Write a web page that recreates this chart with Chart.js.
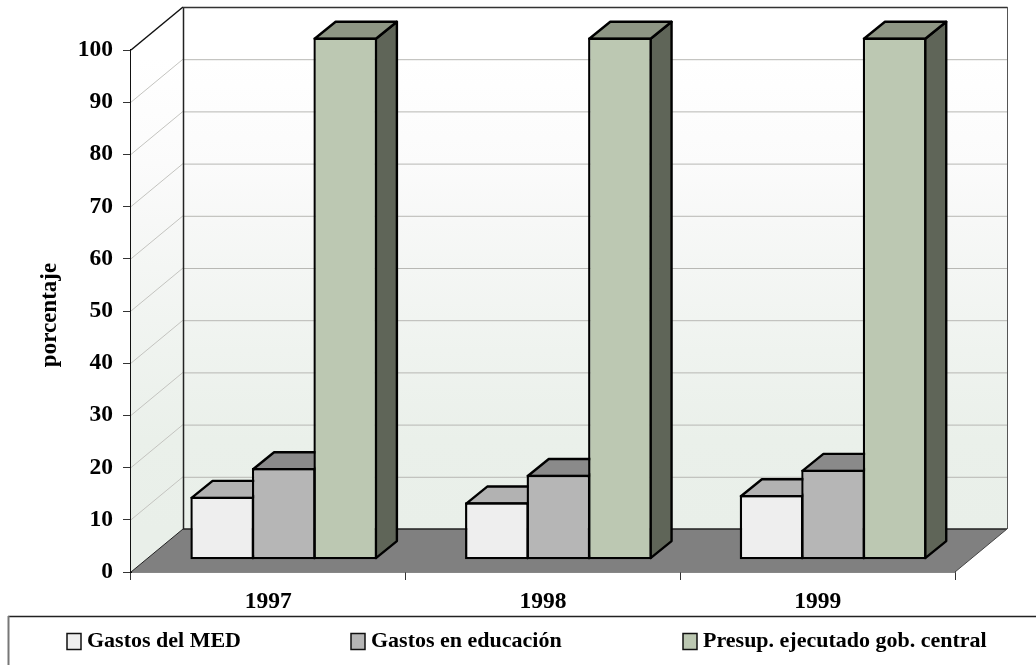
<!DOCTYPE html>
<html>
<head>
<meta charset="utf-8">
<title>Gastos en educación</title>
<script src="https://cdn.jsdelivr.net/npm/chart.js@4/dist/chart.umd.min.js"></script>
<style>
  html, body { margin: 0; padding: 0; background: #fff; }
  #wrap { width: 1036px; height: 665px; }
  canvas { display: block; }
</style>
</head>
<body>
<div id="wrap"><canvas id="c" width="1036" height="665"></canvas></div>
<script>
const years = ['1997', '1998', '1999'];
const gastosMED = [11.6, 10.5, 11.9];
const gastosEducacion = [17.1, 15.8, 16.8];
const presupuesto = [100, 100, 100];

const seriesNames = ['Gastos del MED', 'Gastos en educación', 'Presup. ejecutado gob. central'];
const frontColors = ['#eeeeee', '#b6b6b6', '#bcc8b2'];
const topColors = ['#b2b2b2', '#8a8a8a', '#8e9684'];
const sideColors = ['#777777', '#5c5c5c', '#5f6558'];
const axisTitle = 'porcentaje';

const FONT = '"Liberation Serif", "Times New Roman", serif';
const INK = '#000000';
const BAR_LINE = 2.4;

// Room depth: how far the back wall sits behind the front plane, in pixels.
const ROOM = { dx: 52, dy: 43 };
// Bars stand a little inside the room and have their own depth.
const BAR_SHIFT_X = 15.4;
const BAR_DEPTH = { dx: 21, dy: 17 };

function poly(ctx, pts, fill, stroke, lw) {
  ctx.beginPath();
  pts.forEach((p, i) => i ? ctx.lineTo(p[0], p[1]) : ctx.moveTo(p[0], p[1]));
  ctx.closePath();
  if (fill) { ctx.fillStyle = fill; ctx.fill(); }
  if (stroke) { ctx.strokeStyle = stroke; ctx.lineWidth = lw || 1; ctx.lineJoin = 'round'; ctx.stroke(); }
}

function seg(ctx, x1, y1, x2, y2, color, lw) {
  ctx.beginPath();
  ctx.moveTo(x1, y1);
  ctx.lineTo(x2, y2);
  ctx.strokeStyle = color;
  ctx.lineWidth = lw;
  ctx.stroke();
}

const room3d = {
  id: 'room3d',
  // Slide the bars onto their plane inside the room; the base drops by one line
  // width so that the outlines, which the library draws inside the rectangle,
  // sit centred on the value at both ends.
  afterDatasetsUpdate(chart) {
    chart.data.datasets.forEach((ds, i) => {
      chart.getDatasetMeta(i).data.forEach(el => {
        el.x += BAR_SHIFT_X;
        el.base += BAR_LINE;
        el.height += BAR_LINE;
      });
    });
  },
  beforeDatasetsDraw(chart) {
    const ctx = chart.ctx;
    const { left, right, top, bottom } = chart.chartArea;
    const y = chart.scales.y;
    const dx = ROOM.dx, dy = ROOM.dy;
    ctx.save();

    // Walls share one vertical wash.
    const wash = ctx.createLinearGradient(0, top - dy, 0, bottom - dy);
    wash.addColorStop(0, '#ffffff');
    wash.addColorStop(0.1, '#ffffff');
    wash.addColorStop(0.3, '#fbfbfb');
    wash.addColorStop(0.41, '#f7f8f7');
    wash.addColorStop(0.5, '#f4f6f4');
    wash.addColorStop(0.66, '#eff3ef');
    wash.addColorStop(0.83, '#eaf0ea');
    wash.addColorStop(1, '#e9efe9');
    poly(ctx, [[left + dx, top - dy], [right + dx, top - dy], [right + dx, bottom - dy], [left + dx, bottom - dy]], wash);
    poly(ctx, [[left, top], [left + dx, top - dy], [left + dx, bottom - dy], [left, bottom]], wash);

    // Gridlines run along the side wall and across the back wall.
    y.ticks.forEach(t => {
      if (t.value === 0 || t.value === 100) return;
      const py = y.getPixelForValue(t.value);
      seg(ctx, left, py, left + dx, py - dy, '#c4c4c0', 1);
      seg(ctx, left + dx, py - dy + 0.5, right + dx, py - dy + 0.5, '#b8b8b4', 1);
    });

    // Wall edges.
    seg(ctx, left, top, left + dx, top - dy, '#111', 1.5);
    seg(ctx, left + dx + 0.5, top - dy, left + dx + 0.5, bottom - dy, '#222', 1.5);
    seg(ctx, left + dx, top - dy + 0.5, right + dx + 0.5, top - dy + 0.5, '#333', 1.5);
    seg(ctx, right + dx + 0.5, top - dy, right + dx + 0.5, bottom - dy, '#555', 1);

    // Floor.
    poly(ctx, [[left, bottom], [right, bottom], [right + dx, bottom - dy], [left + dx, bottom - dy]], '#808080');
    seg(ctx, left + dx, bottom - dy, right + dx, bottom - dy, '#222', 1.5);
    seg(ctx, right, bottom, right + dx, bottom - dy, '#444', 1);
    seg(ctx, left, bottom, left + dx, bottom - dy, '#222', 1);

    // Tops and right-hand sides of every bar; the fronts come from the library.
    const bx = BAR_DEPTH.dx, by = BAR_DEPTH.dy;
    const inset = BAR_LINE / 2;
    chart.data.datasets.forEach((ds, i) => {
      chart.getDatasetMeta(i).data.forEach(el => {
        const p = el.getProps(['x', 'y', 'base', 'width'], true);
        const l = p.x - p.width / 2 + inset, r = p.x + p.width / 2 - inset;
        const t = p.y + inset, b = p.base - inset;
        poly(ctx, [[r, t], [r + bx, t - by], [r + bx, b - by], [r, b]], sideColors[i], INK, BAR_LINE);
        poly(ctx, [[l, t], [r, t], [r + bx, t - by], [l + bx, t - by]], topColors[i], INK, BAR_LINE);
      });
    });
    ctx.restore();
  },
  afterDraw(chart) {
    const ctx = chart.ctx;

    // Value axis title, rotated, beside the tick labels.
    ctx.save();
    ctx.translate(50, 315);
    ctx.rotate(-Math.PI / 2);
    ctx.font = 'bold 23px ' + FONT;
    ctx.fillStyle = INK;
    ctx.textAlign = 'center';
    ctx.textBaseline = 'middle';
    ctx.fillText(axisTitle, 0, 0);
    ctx.restore();

    // Legend strip along the bottom of the canvas.
    const swatchX = [67, 351, 683];
    ctx.save();
    seg(ctx, 8, 616.5, chart.width, 616.5, '#222', 1.5);
    seg(ctx, 8.5, 616, 8.5, chart.height, '#777', 2);
    ctx.font = 'bold 22px ' + FONT;
    ctx.textBaseline = 'alphabetic';
    ctx.textAlign = 'left';
    chart.data.datasets.forEach((ds, i) => {
      ctx.fillStyle = ds.backgroundColor;
      ctx.fillRect(swatchX[i], 633.5, 14, 16);
      ctx.strokeStyle = '#111';
      ctx.lineWidth = 1.5;
      ctx.strokeRect(swatchX[i], 633.5, 14, 16);
      ctx.fillStyle = INK;
      ctx.fillText(ds.label, swatchX[i] + 20, 647);
    });
    ctx.restore();
  }
};

const barDefaults = {
  borderColor: INK,
  borderWidth: BAR_LINE,
  borderSkipped: false,
  categoryPercentage: 0.672,
  barPercentage: 1.035,
  yAxisID: 'yBars',
  clip: false
};

const seriesValues = [gastosMED, gastosEducacion, presupuesto];

new Chart(document.getElementById('c'), {
  type: 'bar',
  data: {
    labels: years,
    datasets: seriesNames.map((name, i) => Object.assign({
      label: name,
      data: seriesValues[i],
      backgroundColor: frontColors[i]
    }, barDefaults))
  },
  options: {
    responsive: false,
    animation: false,
    layout: { padding: { left: 36, right: 81, top: 50, bottom: 48 } },
    plugins: { legend: { display: false }, tooltip: { enabled: false } },
    scales: {
      x: {
        offset: true,
        grid: { drawOnChartArea: false, drawTicks: true, tickLength: 8, color: '#333', offset: true },
        border: { display: true, color: '#111', width: 1.5 },
        ticks: { color: INK, font: { family: FONT, size: 23.5, weight: 'bold' }, padding: 8, maxRotation: 0 },
        afterFit(s) { s.height = 45; }
      },
      y: {
        min: 0,
        max: 100,
        ticks: { stepSize: 10, color: INK, font: { family: FONT, size: 23.5, weight: 'bold' }, padding: 10 },
        grid: { drawOnChartArea: false, drawTicks: true, tickLength: 8, color: '#333' },
        border: { display: true, color: '#111', width: 2 },
        afterFit(s) { s.width = 95; }
      },
      // Hidden value axis for the plane the bars stand on, set back from the front plane.
      yBars: {
        display: false,
        min: -2.908,
        max: 97.61
      }
    }
  },
  plugins: [room3d]
});
</script>
</body>
</html>
